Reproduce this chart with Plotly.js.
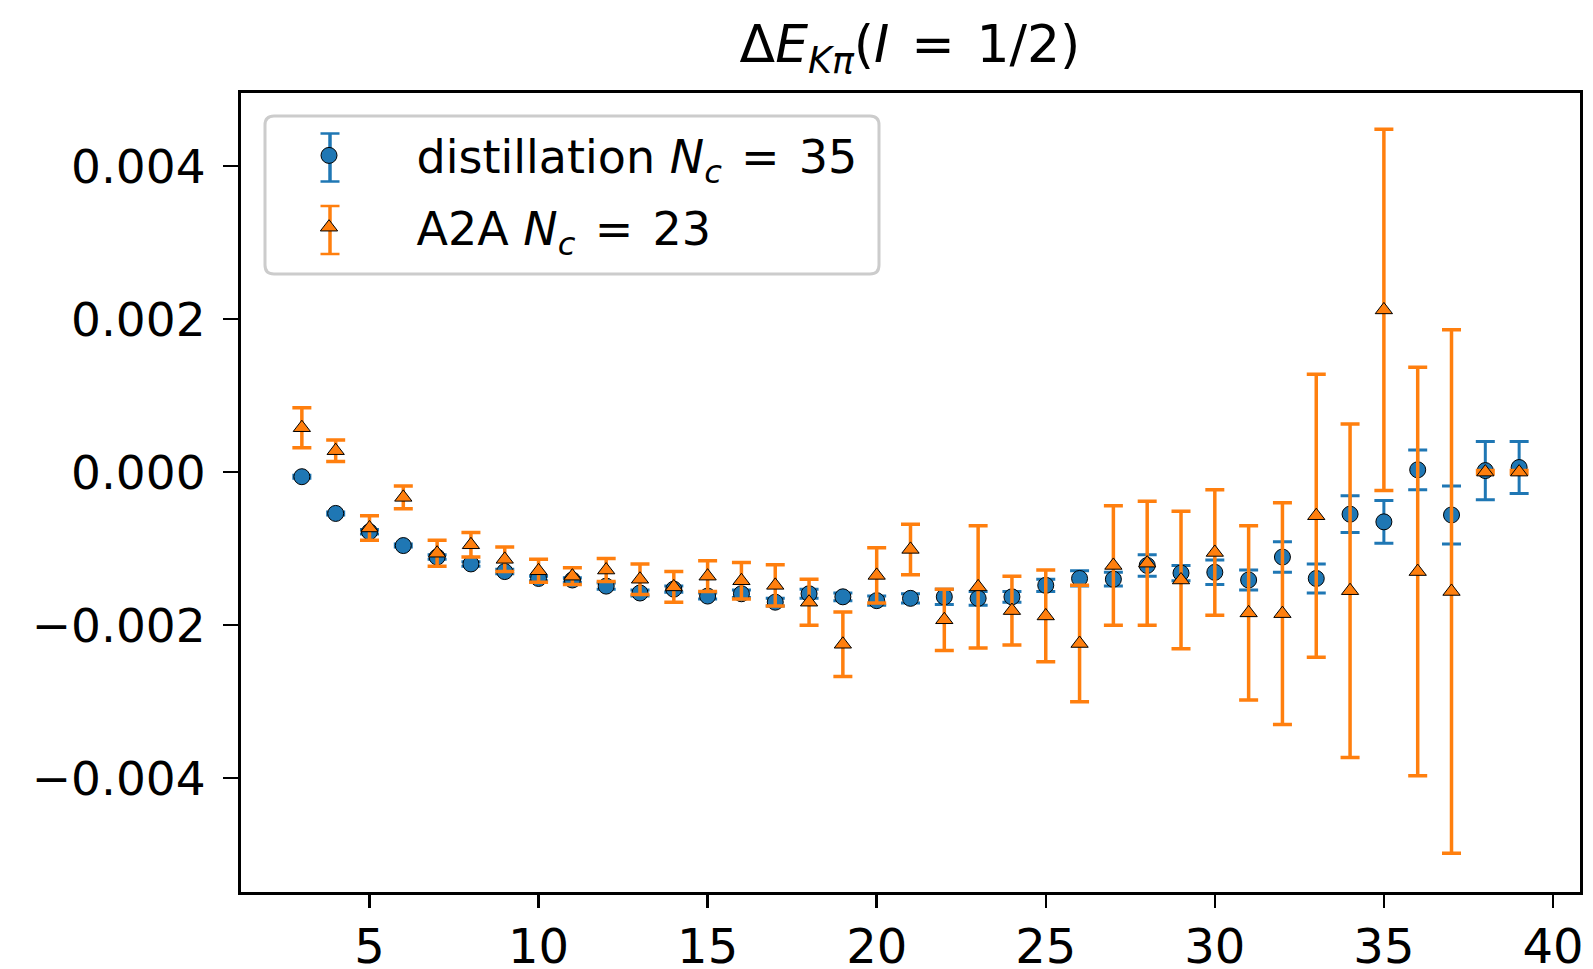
<!DOCTYPE html>
<html>
<head>
<meta charset="utf-8">
<script src="https://cdn.plot.ly/plotly-3.0.1.min.js"></script>
<style>
  html, body { margin: 0; padding: 0; background: #ffffff; }
  #chart { width: 1593px; height: 969px; }
</style>
</head>
<body>
<div id="chart"></div>
<script>
// ---- data ----
const tValues = [3,4,5,6,7,8,9,10,11,12,13,14,15,16,17,18,19,20,21,22,23,24,25,26,27,28,29,30,31,32,33,34,35,36,37,38,39];

const distY = [-0.00006,-0.00054,-0.00078,-0.00096,-0.00111,-0.00120,-0.00130,-0.00139,-0.00141,-0.00149,
               -0.00158,-0.00153,-0.00162,-0.00159,-0.00170,-0.00159,-0.00163,-0.00168,-0.00165,-0.00163,
               -0.00165,-0.00163,-0.00148,-0.00139,-0.00140,-0.00122,-0.00132,-0.00131,-0.00141,-0.00111,
               -0.00139,-0.00055,-0.00065,0.00003,-0.00056,0.00002,0.00006];
const distErr = [0.00002,0.00002,0.00003,0.00002,0.00003,0.00003,0.00003,0.00003,0.00003,0.00004,
                 0.00004,0.00004,0.00004,0.00005,0.00005,0.00006,0.00005,0.00006,0.00006,0.00010,
                 0.00009,0.00007,0.00008,0.00010,0.00009,0.00014,0.00010,0.00016,0.00013,0.00020,
                 0.00019,0.00024,0.00028,0.00026,0.00038,0.00038,0.00034];

const a2aY = [0.00058,0.00028,-0.00073,-0.00033,-0.00106,-0.00095,-0.00114,-0.00129,-0.00136,-0.00128,
              -0.00140,-0.00150,-0.00136,-0.00142,-0.00148,-0.00170,-0.00225,-0.00135,-0.00101,-0.00193,
              -0.00150,-0.00181,-0.00188,-0.00224,-0.00122,-0.00119,-0.00141,-0.00105,-0.00184,-0.00185,
              -0.00057,-0.00155,0.00212,-0.00130,-0.00156,0.00000,0.00000];
const a2aErr = [0.00026,0.00014,0.00016,0.00015,0.00017,0.00016,0.00016,0.00015,0.00011,0.00015,
                0.00020,0.00020,0.00020,0.00024,0.00027,0.00030,0.00042,0.00036,0.00033,0.00040,
                0.00080,0.00045,0.00060,0.00076,0.00078,0.00081,0.00090,0.00082,0.00114,0.00145,
                0.00185,0.00218,0.00236,0.00267,0.00342,0.00002,0.00002];

const xTickVals = [5,10,15,20,25,30,35,40];
const yTickVals = [-0.004,-0.002,0,0.002,0.004];
const yTickText = ['\u22120.004','\u22120.002','0.000','0.002','0.004'];

const SP = ' \u200A';
const seriesNames = ['distillation <i>N</i><sub><i>c</i></sub>' + SP + '=' + SP + '35',
                     'A2A <i>N</i><sub><i>c</i></sub>' + SP + '=' + SP + '23'];
const titleText = '\u0394<i>E</i><sub><i>K\u03c0</i></sub>(<i>I</i>' + SP + '=' + SP + '1/2)';

const BLUE = '#1f77b4', ORANGE = '#ff7f0e';
const FONT = 'DejaVu Sans, Liberation Sans, sans-serif';

const traces = [
  {
    type: 'scatter', mode: 'markers', name: seriesNames[0], legendgroup: 'g1',
    x: tValues, y: distY,
    error_y: {type: 'data', array: distErr, visible: true, color: BLUE, thickness: 3, width: 9.5},
    marker: {symbol: 'circle', size: 16, color: BLUE, line: {color: '#000000', width: 1}}
  },
  {
    type: 'scatter', mode: 'markers', name: seriesNames[1], legendgroup: 'g2',
    x: tValues, y: a2aY,
    error_y: {type: 'data', array: a2aErr, visible: true, color: ORANGE, thickness: 3.5, width: 9.5},
    marker: {symbol: 'triangle-up', size: 15, color: ORANGE, line: {color: '#000000', width: 1}}
  }
];

// ---- legend frame and error-bar glyphs (layout decoration, paper coords) ----
const PW = 1339, PH = 799, PL = 241, PB = 892;
function px2paperX(px) { return (px - PL) / PW; }
function px2paperY(py) { return (PB - py) / PH; }
const lx0 = px2paperX(265), lx1 = px2paperX(879), ly1 = px2paperY(116), ly0 = px2paperY(274);
const rx = 9 / PW, ry = 9 / PH;
const boxPath = `M ${lx0 + rx},${ly0} L ${lx1 - rx},${ly0} Q ${lx1},${ly0} ${lx1},${ly0 + ry} ` +
                `L ${lx1},${ly1 - ry} Q ${lx1},${ly1} ${lx1 - rx},${ly1} L ${lx0 + rx},${ly1} ` +
                `Q ${lx0},${ly1} ${lx0},${ly1 - ry} L ${lx0},${ly0 + ry} Q ${lx0},${ly0} ${lx0 + rx},${ly0} Z`;

const glyphX = px2paperX(330);
const glyphRows = [{y: px2paperY(157.5), c: BLUE}, {y: px2paperY(230), c: ORANGE}];
const shapes = [{
  type: 'path', xref: 'paper', yref: 'paper', path: boxPath, layer: 'above',
  fillcolor: 'rgba(255,255,255,0.8)', line: {color: '#cccccc', width: 3}
}];
glyphRows.forEach(r => {
  const common = {type: 'line', xref: 'paper', yref: 'paper', layer: 'above',
                  xsizemode: 'pixel', ysizemode: 'pixel', xanchor: glyphX, yanchor: r.y};
  shapes.push(Object.assign({}, common, {x0: 0, x1: 0, y0: -24, y1: 24, line: {color: r.c, width: 3.5}}));
  shapes.push(Object.assign({}, common, {x0: -9.5, x1: 9.5, y0: 24, y1: 24, line: {color: r.c, width: 2.5}}));
  shapes.push(Object.assign({}, common, {x0: -9.5, x1: 9.5, y0: -24, y1: -24, line: {color: r.c, width: 2.5}}));
});

const layout = {
  width: 1593, height: 969,
  paper_bgcolor: '#ffffff', plot_bgcolor: '#ffffff',
  margin: {l: 241, r: 13, t: 93, b: 77, pad: 0},
  font: {family: FONT, size: 47, color: '#000000'},
  title: {
    text: titleText, font: {family: FONT, size: 52, color: '#000000'},
    x: 910 / 1593, xref: 'container', xanchor: 'center',
    y: 1 - 44/969, yref: 'container', yanchor: 'middle'
  },
  showlegend: true,
  legend: {
    x: px2paperX(241.5), y: px2paperY(119), xanchor: 'left', yanchor: 'top',
    bgcolor: 'rgba(0,0,0,0)', borderwidth: 0,
    font: {family: FONT, size: 46, color: '#000000'},
    itemwidth: 165, tracegroupgap: 9, traceorder: 'grouped'
  },
  shapes: shapes,
  xaxis: {
    range: [1.2, 40.8], tickmode: 'array', tickvals: xTickVals,
    ticks: 'outside', ticklen: 13, tickwidth: 2.5, tickcolor: '#000000',
    showline: true, linecolor: '#000000', linewidth: 3, mirror: true,
    showgrid: false, zeroline: false, ticklabelstandoff: -3,
    tickfont: {family: FONT, size: 48, color: '#000000'}
  },
  yaxis: {
    range: [-0.005488, 0.004955], tickmode: 'array', tickvals: yTickVals, ticktext: yTickText,
    ticks: 'outside', ticklen: 15, tickwidth: 2.5, tickcolor: '#000000',
    showline: true, linecolor: '#000000', linewidth: 3, mirror: true,
    showgrid: false, zeroline: false, ticklabelstandoff: 8,
    tickfont: {family: FONT, size: 47, color: '#000000'}
  }
};

Plotly.newPlot('chart', traces, layout, {displayModeBar: false, staticPlot: true});
</script>
</body>
</html>
